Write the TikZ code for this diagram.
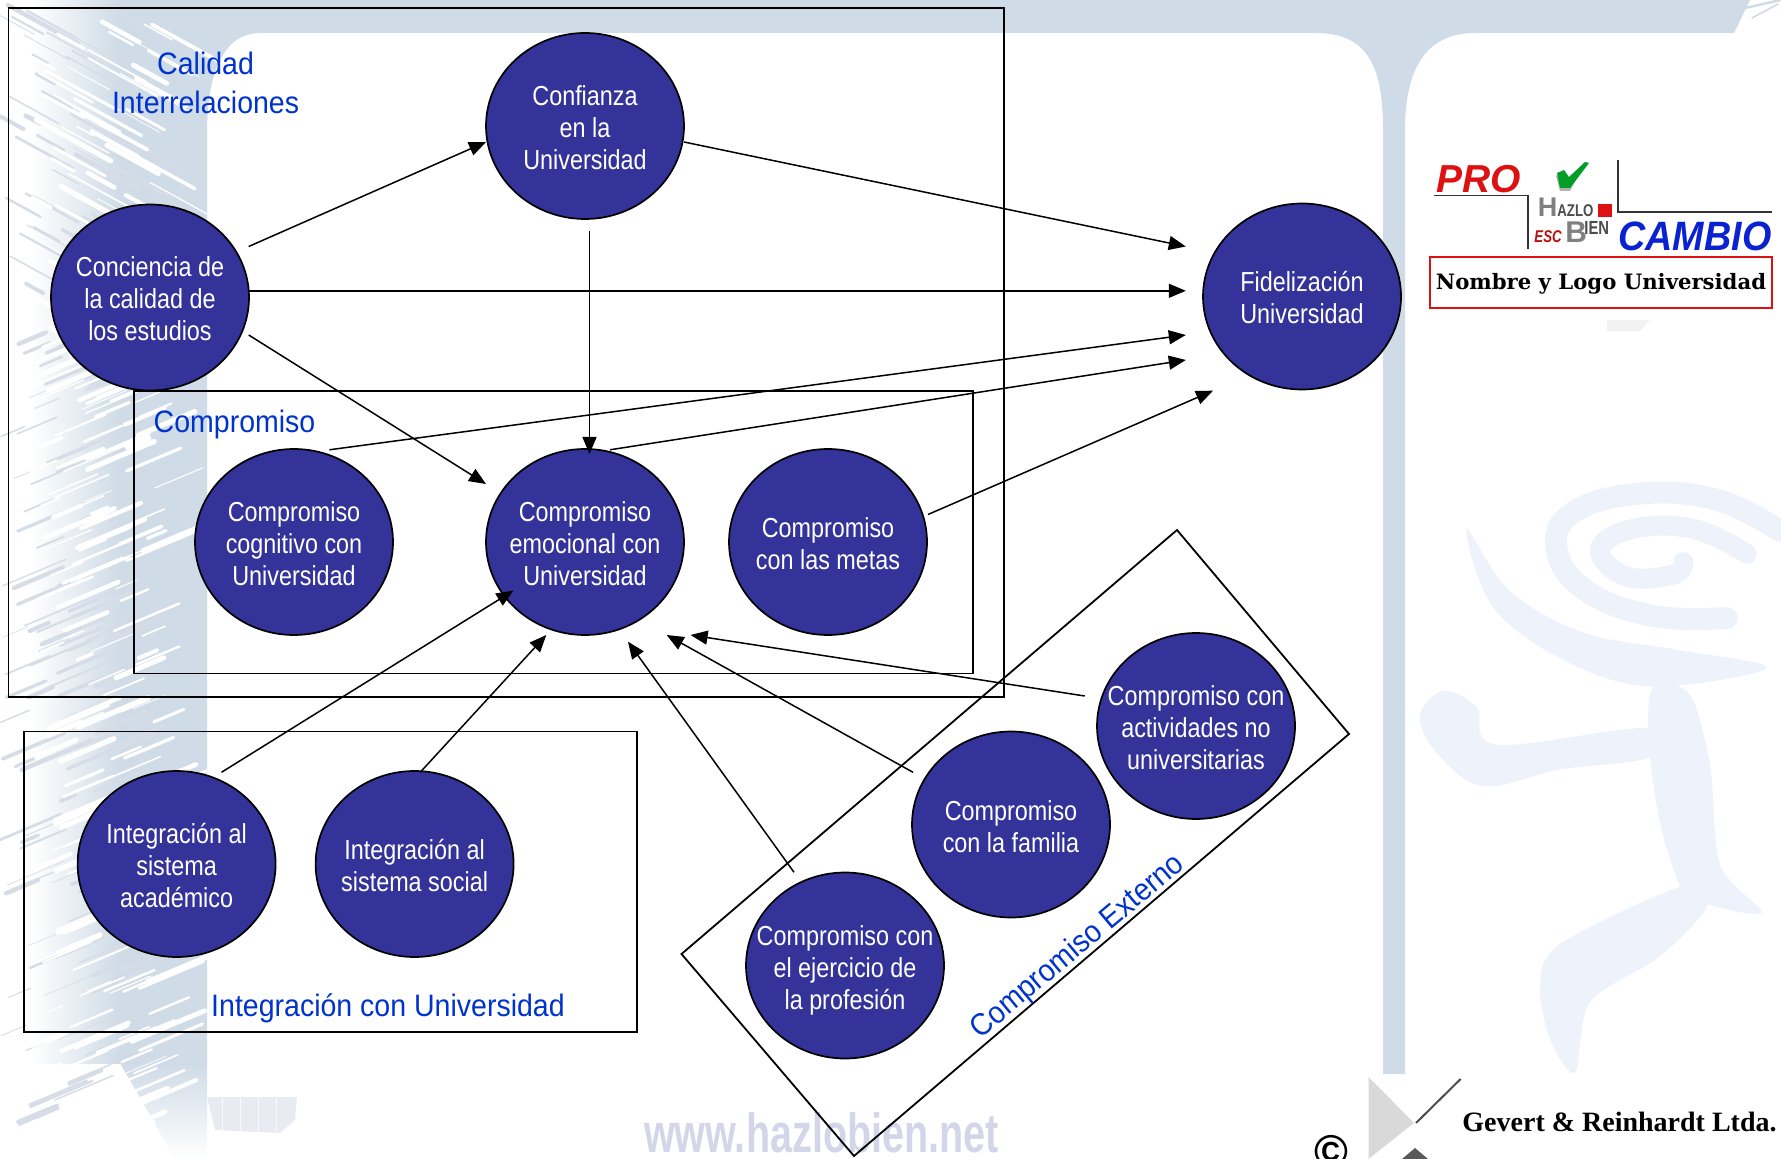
\documentclass[tikz,border=0pt]{standalone}
\usepackage{fontspec}
\usetikzlibrary{shapes.geometric,arrows.meta,calc}
\setmainfont{Liberation Sans}
\newfontfamily\whitefont[FakeStretch=0.85]{Liberation Sans}
\newfontfamily\bluefont[FakeStretch=0.92]{Liberation Sans}
\newfontfamily\webfont[FakeStretch=0.72]{Liberation Sans}
\newfontfamily\cambiofont[FakeStretch=0.92]{Liberation Sans}
\newfontfamily\tinyfont[FakeStretch=0.78]{Liberation Sans}
\newfontfamily\slabfont{DejaVu Serif}
\newfontfamily\timesfont{Liberation Serif}
\definecolor{circfill}{HTML}{333399}
\definecolor{labelblue}{HTML}{0033CC}
\definecolor{bandcol}{HTML}{CFDBE6}
\definecolor{bandmix}{HTML}{BCC6D6}
\definecolor{wmark}{HTML}{EEF2FA}
\definecolor{webcol}{HTML}{D3D6E8}
\definecolor{logored}{HTML}{DD1111}
\definecolor{logoblue}{HTML}{0A22D0}
\newcommand\ctxt[1]{\raisebox{-6.15pt}[0pt][0pt]{\makebox[0pt]{\smash{\begin{tabular}[c]{@{}c@{}}#1\end{tabular}}}}}
\tikzset{
  circnode/.style={ellipse,draw=black,line width=0.85pt,fill=circfill,text=white,
    minimum width=99pt,minimum height=93pt,inner sep=0pt,outer sep=0pt,
    font=\whitefont\fontsize{13.75}{16}\selectfont},
  conn/.style={draw=black,line width=0.75pt,-{Triangle[length=8.5pt,width=7pt]}},
  groupbox/.style={draw=black,line width=0.9pt},
  grouplabel/.style={text=labelblue,inner sep=0pt,font=\bluefont\fontsize{15.5}{19.5}\selectfont,align=center},
  logoline/.style={draw=black!80,line width=0.8pt},
}
\begin{document}
\begin{tikzpicture}[x=0.5pt,y=-0.5pt]
\useasboundingbox (0,0) rectangle (1781,1159);
% background frame
\fill[bandcol] (120,0) -- (1750,0) -- (1734,33) -- (1475,33)
  .. controls (1425,33) and (1405,70) .. (1405,130) -- (1405,1074) -- (1383,1074) -- (1383,130)
  .. controls (1383,70) and (1370,33) .. (1316,33) -- (260,33)
  .. controls (225,33) and (207,70) .. (207,133) -- (207,1063) -- (120,1063) -- cycle;
\shade[left color=white,right color=bandcol] (30,0) rectangle (120,1063);
\shade[top color=bandcol,bottom color=white] (120,1063) -- (207,1063) -- (207,1159) -- (175,1159) -- cycle;
\pgfmathsetseed{11}
\foreach \i in {1,...,170}{
  \pgfmathsetmacro\yy{rnd*1130+5}
  \pgfmathsetmacro\xx{rnd*125}
  \pgfmathsetmacro\ll{rnd*60+15}
  \pgfmathsetmacro\ww{rnd*2+0.3}
  \pgfmathsetmacro\dd{\yy<330 ? 0.55 : -0.42}
  \draw[bandmix!60,line width=\ww pt,line cap=round] (\xx,\yy) -- ++(\ll,\dd*\ll);
}
\foreach \i in {1,...,240}{
  \pgfmathsetmacro\yy{rnd*1140+10}
  \pgfmathsetmacro\xx{rnd*125+30}
  \pgfmathsetmacro\ll{rnd*60+15}
  \pgfmathsetmacro\ww{rnd*2.4+0.3}
  \pgfmathsetmacro\dd{\yy<330 ? 0.55 : -0.42}
  \draw[white,line width=\ww pt,line cap=round] (\xx,\yy) -- ++(\ll,\dd*\ll);
}
% top right feather
\draw[bandcol,line width=1.2pt,line cap=round] (1745,8) -- (1781,0);
\draw[bandcol,line width=0.8pt,line cap=round] (1752,18) -- (1778,4);
% smudge at lower left
\fill[bandmix!35] (207,1097) -- (297,1097) -- (295,1120) -- (280,1133) -- (215,1130) -- cycle;
\foreach \sx in {222,240,258,276}{\draw[white!90!bandmix,line width=0.5pt] (\sx,1097) -- (\sx,1133);}
% watermark at right
\begin{scope}[shift={(1400,450)},x=0.1667pt,y=-0.2075pt]
  \fill[wmark] plot[smooth cycle,tension=0.6] coordinates {(200,190) (280,380) (500,510) (760,570) (1100,525) (820,480) (550,440) (330,340)};
  \fill[wmark] plot[smooth cycle,tension=0.6] coordinates {(60,640) (130,580) (230,620) (290,710) (740,670) (750,740) (480,770) (250,810) (110,730)};
  \fill[wmark] plot[smooth cycle,tension=0.5] coordinates {(760,570) (870,590) (930,760) (960,1000) (1085,1115) (900,1090) (840,1050) (780,900) (745,700)};
  \fill[wmark] plot[smooth cycle,tension=0.5] coordinates {(850,1050) (480,1190) (420,1290) (450,1420) (525,1500) (570,1330) (780,1220) (920,1100)};
  \draw[wmark,line width=11pt,line cap=round] plot[smooth,tension=0.7] coordinates {(1140,195) (950,120) (720,105) (520,150) (470,240) (560,340) (760,400) (980,405)};
  \draw[wmark,line width=10pt,line cap=round] plot[smooth,tension=0.7] coordinates {(1040,250) (880,190) (700,190) (600,240) (680,305) (820,300) (850,270)};
\end{scope}
% website watermark
\node[text=webcol,inner sep=0pt,font=\webfont\bfseries\fontsize{27.5}{28}\selectfont] (web) at (821.5,1133) {www.hazlobien.net};
% group boxes
\draw[groupbox] (8.5,8) rectangle (1004,697);
\draw[groupbox] (134,390.7) rectangle (973,673.5);
\draw[groupbox] (24,731.5) rectangle (637,1032);
\draw[groupbox] (1177,530) -- (1349,734) -- (854,1156) -- (681.5,954) -- cycle;
% group labels
\node[grouplabel] (lcal) at (205.6,83) {Calidad\\Interrelaciones};
\node[grouplabel,anchor=west] (lcomp) at (153.3,424) {Compromiso};
\node[grouplabel] (lint) at (388,1008.5) {Integración con Universidad};
\node[grouplabel,rotate=40] (lext) at (1078,947) {Compromiso Externo};
% circles
\node[circnode] (conf) at (585,126) {\ctxt{Confianza\\en la\\Universidad}};
\node[circnode] (conc) at (150,297.5) {\ctxt{Conciencia de\\la calidad de\\los estudios}};
\node[circnode] (fid) at (1302,296.5) {\ctxt{Fidelización\\Universidad}};
\node[circnode] (cog) at (294,542) {\ctxt{Compromiso\\cognitivo con\\Universidad}};
\node[circnode] (emo) at (585,542) {\ctxt{Compromiso\\emocional con\\Universidad}};
\node[circnode] (met) at (828,542) {\ctxt{Compromiso\\con las metas}};
\node[circnode] (act) at (1196,726) {\ctxt{Compromiso con\\actividades no\\universitarias}};
\node[circnode] (fam) at (1011,824.5) {\ctxt{Compromiso\\con la familia}};
\node[circnode] (eje) at (845,965.5) {\ctxt{Compromiso con\\el ejercicio de\\la profesión}};
\node[circnode] (aca) at (176.6,864) {\ctxt{Integración al\\sistema\\académico}};
\node[circnode] (soc) at (414.6,864) {\ctxt{Integración al\\sistema social}};
% connectors
\draw[conn] ($(conc)+(98.7,-51)$) -- ($(conf)+(-99,16)$);
\draw[conn] ($(conc)+(98.7,-6.7)$) -- ($(fid)+(-116.2,-5.7)$);
\draw[conn] ($(conc)+(98.7,37.5)$) -- ($(emo)+(-99,-58)$);
\draw[conn] ($(conf)+(99,16)$) -- ($(fid)+(-116.2,-50)$);
\draw[conn] ($(conf)+(4.5,104.6)$) -- ($(emo)+(4.5,-88)$);
\draw[conn] ($(cog)+(35.4,-92.2)$) -- ($(fid)+(-116.2,38.5)$);
\draw[conn] ($(emo)+(25,-92.2)$) -- ($(fid)+(-116.2,63.5)$);
\draw[conn] ($(met)+(100,-27.5)$) -- ($(fid)+(-89,94.2)$);
\draw[conn] ($(aca)+(44.9,-91.7)$) -- ($(emo)+(-71.6,48.6)$);
\draw[conn] ($(soc)+(5.6,-91.7)$) -- ($(emo)+(-38.7,93)$);
\draw[conn] ($(eje)+(-51,-93.2)$) -- ($(emo)+(43,99.7)$);
\draw[conn] ($(fam)+(-98,-52.2)$) -- ($(emo)+(81.7,93)$);
\draw[conn] ($(act)+(-111.3,-30)$) -- ($(emo)+(105.6,93)$);
% logo
\node[inner sep=0pt,text=logored,font=\bfseries\itshape\fontsize{19.5}{20}\selectfont] (pro) at (1478.5,179) {PRO};
\draw[logoline] (1434,195.7) -- (1527.7,195.7) -- (1527.7,249);
\draw[logoline] (1617.7,160) -- (1617.7,212.3) -- (1772,212.3);
\fill[black!30] (1556,176) -- (1563,173) -- (1568,180) -- (1584,165) -- (1570,191) -- (1560,191) -- cycle;
\fill[green!55!black!85!cyan] (1557,173) -- (1564,170) -- (1569,177) -- (1585,162) -- (1589,163) -- (1570,188) -- (1560,188) -- cycle;
\node[inner sep=0pt,anchor=base west,text=black!50,font=\bfseries\fontsize{13.5}{14}\selectfont] (hh) at (1537.5,217) {H};
\node[inner sep=0pt,anchor=base west,text=black!70,font=\tinyfont\bfseries\fontsize{8.5}{9}\selectfont] (azlo) at (1557,217) {AZLO};
\fill[logored] (1598,204) rectangle (1612,217);
\node[inner sep=0pt,anchor=base west,text=logored!85!black,font=\tinyfont\bfseries\itshape\fontsize{8.5}{9}\selectfont] (esc) at (1534,243) {ESC};
\node[inner sep=0pt,anchor=base west,text=black!50,font=\bfseries\fontsize{15}{15}\selectfont] (bb) at (1565,243) {B};
\node[inner sep=0pt,anchor=base west,text=black!70,font=\tinyfont\bfseries\fontsize{9.5}{10}\selectfont] (ien) at (1584,235) {IEN};
\node[inner sep=0pt,anchor=base west,text=logoblue,font=\cambiofont\bfseries\itshape\fontsize{20.5}{21}\selectfont] (cambio) at (1618,251) {CAMBIO};
\draw[logored,line width=1.4pt,fill=white] (1430,257) rectangle (1772,308);
\node[inner sep=0pt,text=black,font=\slabfont\bfseries\fontsize{10.6}{11}\selectfont] (uni) at (1601,284) {Nombre y Logo Universidad};
\fill[black!5] (1607,320) -- (1650,320) -- (1640,331) -- (1607,331) -- cycle;
% bottom right mark
\fill[black!15] (1368.5,1077) -- (1414,1123) -- (1368.5,1159) -- cycle;
\draw[black!70,line width=1pt] (1416,1123) -- (1460.6,1079);
\fill[black!65] (1415,1148) -- (1428,1159) -- (1402,1159) -- cycle;
\node[inner sep=0pt,text=black,font=\bfseries\fontsize{23}{23}\selectfont] (copy) at (1331,1152) {©};
\node[inner sep=0pt,anchor=west,text=black,font=\timesfont\bfseries\fontsize{14}{15}\selectfont] (gev) at (1462,1122) {Gevert \& Reinhardt Ltda.};
\end{tikzpicture}
\end{document}
